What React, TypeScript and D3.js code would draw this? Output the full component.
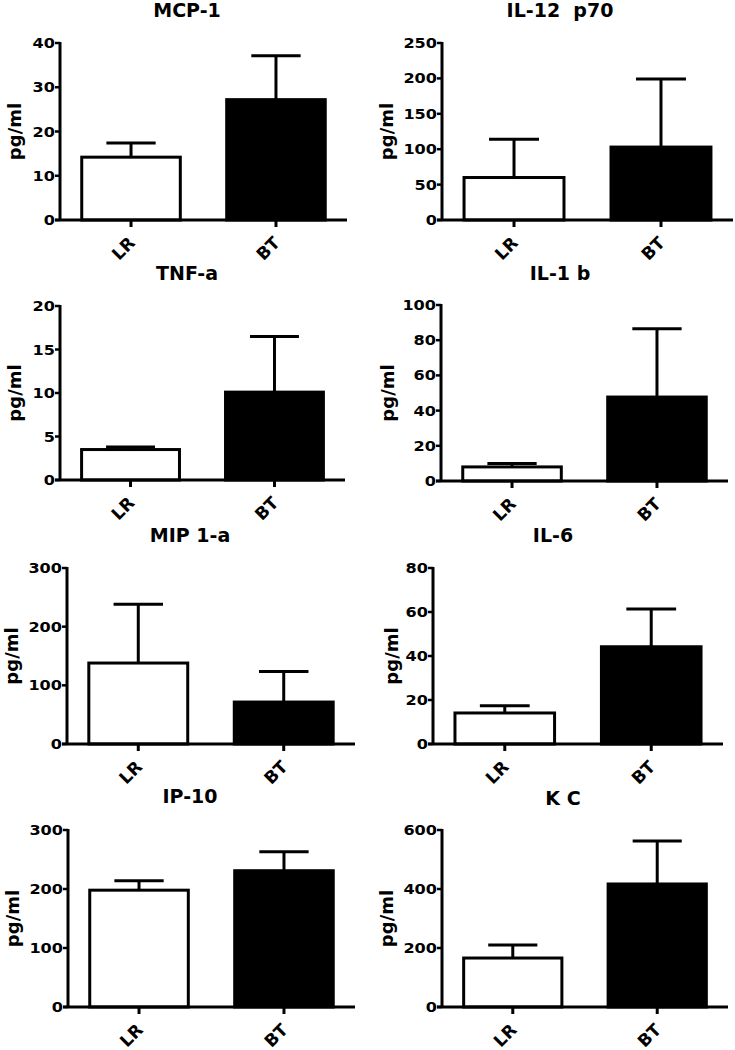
import React from "react";
import * as d3 from "d3";

const groups = ["LR", "BT"];
const titles = ["MCP-1", "IL-12  p70", "TNF-a", "IL-1 b", "MIP 1-a", "IL-6", "IP-10", "K C"];
const yMax = [40, 250, 20, 100, 300, 80, 300, 600];
const yStep = [10, 50, 5, 20, 100, 20, 100, 200];
const meanLR = [14.2, 60, 3.5, 8.0, 138, 14.1, 198, 166];
const meanBT = [27.2, 103, 10.1, 47.7, 71.5, 44.2, 231, 417];
const semLR = [3.2, 54, 0.3, 2.0, 100, 3.3, 16, 44];
const semBT = [9.9, 96, 6.4, 38.8, 52, 17.2, 32, 146];
const yLabel = "pg/ml";

// layout per panel: axis x, axis right end, top and base of y range, title position, y-label x
const layout = [
  { x0: 60, x1: 347, top: 43, base: 220, tx: 187, ty: 17, lx: 21 },
  { x0: 442, x1: 733, top: 43, base: 220, tx: 560, ty: 17, lx: 393 },
  { x0: 60, x1: 345, top: 306, base: 480, tx: 187, ty: 280, lx: 21 },
  { x0: 441, x1: 728, top: 305, base: 481, tx: 560, ty: 280, lx: 394 },
  { x0: 67, x1: 355, top: 568, base: 744, tx: 190, ty: 542, lx: 18 },
  { x0: 433, x1: 723, top: 568, base: 744, tx: 553, ty: 542, lx: 398 },
  { x0: 68, x1: 355, top: 830, base: 1007, tx: 190, ty: 803, lx: 19 },
  { x0: 442, x1: 728, top: 830, base: 1007, tx: 563, ty: 805, lx: 393 },
];

const FONT = "'DejaVu Sans', Arial, sans-serif";

function Panel({ i }: { i: number }) {
  const L = layout[i];
  const x = d3.scaleBand<string>().domain(groups).range([L.x0, L.x1]).paddingInner(0.32).paddingOuter(0.15);
  const y = d3.scaleLinear().domain([0, yMax[i]]).range([L.base, L.top]);
  const ticks = d3.range(0, yMax[i] + yStep[i] / 2, yStep[i]);
  const means = [meanLR[i], meanBT[i]];
  const sems = [semLR[i], semBT[i]];
  const bw = x.bandwidth();
  return (
    <g>
      <text x={L.tx} y={L.ty} textAnchor="middle" fontFamily={FONT} fontWeight="bold" fontSize={19} style={{ whiteSpace: "pre" }}>
        {titles[i]}
      </text>
      <text
        transform={`translate(${L.lx},${(L.top + L.base) / 2}) rotate(-90)`}
        textAnchor="middle"
        fontFamily={FONT}
        fontWeight="bold"
        fontSize={18}
      >
        {yLabel}
      </text>
      {groups.map((g, k) => {
        const cx = (x(g) as number) + bw / 2;
        const top = y(means[k]);
        const err = y(means[k] + sems[k]);
        return (
          <g key={g}>
            <line x1={cx} x2={cx} y1={top} y2={err} stroke="#000" strokeWidth={3} />
            <line x1={cx - bw * 0.25} x2={cx + bw * 0.25} y1={err} y2={err} stroke="#000" strokeWidth={3} />
            <rect
              x={x(g) as number}
              y={top}
              width={bw}
              height={L.base - top}
              fill={k === 0 ? "#fff" : "#000"}
              stroke="#000"
              strokeWidth={3}
            />
            <line x1={cx} x2={cx} y1={L.base} y2={L.base + 7} stroke="#000" strokeWidth={3} />
            <text
              transform={`translate(${cx + 5},${L.base + 24}) rotate(-45)`}
              textAnchor="end"
              fontFamily={FONT}
              fontWeight="bold"
              fontSize={17}
            >
              {g}
            </text>
          </g>
        );
      })}
      <line x1={L.x0} x2={L.x0} y1={L.top - 1} y2={L.base} stroke="#000" strokeWidth={3} />
      <line x1={L.x0 - 5} x2={L.x1} y1={L.base} y2={L.base} stroke="#000" strokeWidth={3} />
      {ticks.map((t) => (
        <g key={t}>
          <line x1={L.x0 - 5} x2={L.x0} y1={y(t)} y2={y(t)} stroke="#000" strokeWidth={2.5} />
          <text
            transform={`translate(${L.x0 - 5},${y(t) + 5}) scale(1.15,1)`}
            textAnchor="end"
            fontFamily={FONT}
            fontWeight="bold"
            fontSize={14}
          >
            {t}
          </text>
        </g>
      ))}
    </g>
  );
}

export default function App() {
  return (
    <svg width={735} height={1050} style={{ position: "absolute", left: 0, top: 0, background: "#fff" }}>
      <rect width={735} height={1050} fill="#fff" />
      {layout.map((_, i) => (
        <Panel key={i} i={i} />
      ))}
    </svg>
  );
}
